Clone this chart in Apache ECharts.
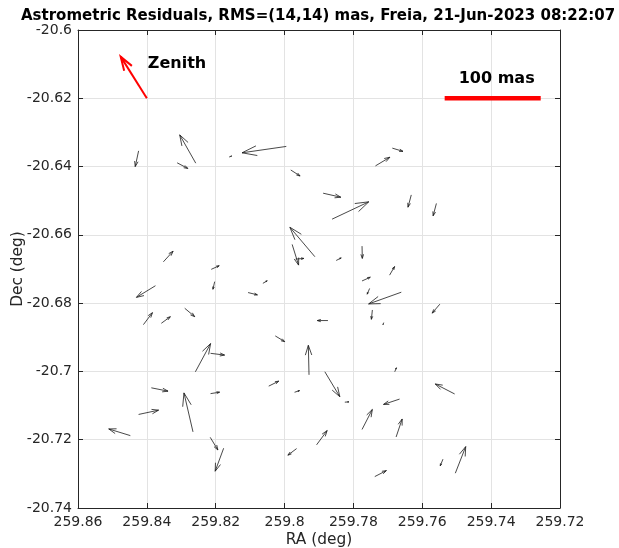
<!DOCTYPE html>
<html>
<head>
<meta charset="utf-8">
<script src="https://cdn.jsdelivr.net/npm/echarts@6/dist/echarts.min.js"></script>
<style>
  html, body { margin: 0; padding: 0; background: #fff; }
  #chart { width: 619px; height: 548px; }
</style>
</head>
<body>
<div id="chart"></div>
<script>
// Star positions (deg) and their astrometric residuals (mas)
const raDeg = [
  259.8424, 259.8258, 259.8312, 259.8161, 259.7995, 259.7736, 259.7687, 259.7982, 259.7888, 259.7862,
  259.7912, 259.7978, 259.7968, 259.7850, 259.7775, 259.8063, 259.8106, 259.7775, 259.7695, 259.7753,
  259.7661, 259.7745, 259.7712, 259.7874, 259.8027, 259.7929, 259.8352, 259.8213, 259.8203, 259.8375,
  259.8410, 259.8358, 259.8290, 259.8259, 259.8215, 259.8387, 259.8266, 259.8215, 259.8424, 259.8448,
  259.8216, 259.8177, 259.8046, 259.7971, 259.7883, 259.7825, 259.7680, 259.7666, 259.7775, 259.7676,
  259.7907, 259.7965, 259.7738, 259.7506, 259.7504, 259.7540, 259.7632, 259.7559, 259.7549
];
const decDeg = [
  -20.6354, -20.6390, -20.6389, -20.6372, -20.6341, -20.6398, -20.6346, -20.6410, -20.6478, -20.6554,
  -20.6664, -20.6628, -20.6671, -20.6675, -20.6633, -20.6742, -20.6769, -20.6735, -20.6718, -20.6757,
  -20.6768, -20.6820, -20.6857, -20.6851, -20.6896, -20.7010, -20.6679, -20.6701, -20.6737, -20.6749,
  -20.6863, -20.6859, -20.6815, -20.7001, -20.6947, -20.7048, -20.7177, -20.7065, -20.7126, -20.7188,
  -20.7193, -20.7225, -20.7043, -20.7061, -20.7001, -20.7090, -20.7001, -20.7081, -20.7170, -20.7192,
  -20.7215, -20.7226, -20.7308, -20.7066, -20.7298, -20.7257, -20.6483, -20.6508, -20.6803
];
const dRaMas = [
   3.5, 16.7, -11.1, -2.6, 46.1, -15.0, -11.1, -9.7, -18.4, -38.2,
  26.0, -6.7, -8.6, -5.2, -0.3, -4.5, -9.7, -8.6, -5.2, 2.5,
  34.0, 1.0, 0.7, 11.1, -9.8, 0.7, -10.1, -8.3, 1.8, 19.8,
  -9.4, -9.4, -10.4, -15.8, -14.6, -17.4, 9.4, -9.4, -20.8, 22.5,
  -8.0, 8.8, -10.4, -5.2, -15.6, -4.2, -1.7, 16.7, -10.7, -6.3,
  -11.0, 9.1, -12.1, 20.2, -10.8, 2.8, 3.4, 3.4, 8.0
];
const dDecMas = [
  -16.5, 29.7, -5.9, 1.0, -6.7, 9.1, -3.4, -6.3, -4.2, 18.2,
  30.9, -21.7, 0.7, 2.7, -12.9, 2.7, -2.4, 3.9, 9.0, -6.0,
  -12.3, -9.8, -2.1, 0.0, -6.0, 31.0, 11.2, 3.8, -8.0, -12.2,
  12.6, 6.9, -8.8, 29.6, -1.8, -3.5, 40.9, 1.5, 4.5, 7.0,
  -13.3, -24.1, 5.2, 1.7, -26.2, 0.3, 4.2, -5.6, 21.0, 18.9,
  15.0, -6.9, 6.3, 10.5, 27.9, -7.0, -12.9, -13.0, -9.4
];

// Zenith direction marker (deg) and the 100 mas scale bar (deg)
const zenithTail = [259.84, -20.62];
const zenithTip = [259.8476, -20.6078];
const scaleBarRa = [259.7535, 259.7256];
const scaleBarDec = -20.62;
const scaleBarText = '100 mas';

// Axis ranges and tick spacing
const raRange = [259.72, 259.86];
const decRange = [-20.74, -20.6];
const tickStep = 0.02;

// Residual plotting scale: degrees of arrow length per mas
const degPerMas = 0.000279;

const titleText = 'Astrometric Residuals, RMS=(14,14) mas, Freia, 21-Jun-2023 08:22:07';

const FONT = 'DejaVu Sans';
const INK = '#262626';

const vectors = raDeg.map((ra, i) => [ra, decDeg[i], dRaMas[i], dDecMas[i]]);

function fmt(v) { return String(parseFloat(v.toFixed(4))); }

// quiver-style arrow: shaft plus open V head scaled with the arrow length
function arrowShapes(p0, p1, stroke, width, alpha, beta) {
  const u = p1[0] - p0[0], v = p1[1] - p0[1];
  const x = p1[0], y = p1[1];
  const h1 = [x - alpha * (u + beta * v), y - alpha * (v - beta * u)];
  const h2 = [x - alpha * (u - beta * v), y - alpha * (v + beta * u)];
  const style = { stroke: stroke, lineWidth: width, fill: null };
  return [
    { type: 'polyline', shape: { points: [p0, p1] }, style: style },
    { type: 'polyline', shape: { points: [h1, p1, h2] }, style: style }
  ];
}

const chart = echarts.init(document.getElementById('chart'), null, { renderer: 'canvas' });

const xBase = {
  type: 'value', min: raRange[0], max: raRange[1], interval: tickStep, inverse: true,
  axisLine: { show: true, onZero: false, lineStyle: { color: INK, width: 1 } },
  axisTick: { show: true, inside: true, length: 5, lineStyle: { color: INK } },
  splitLine: { show: false }
};
const yBase = {
  type: 'value', min: decRange[0], max: decRange[1], interval: tickStep,
  axisLine: { show: true, onZero: false, lineStyle: { color: INK, width: 1 } },
  axisTick: { show: true, inside: true, length: 5, lineStyle: { color: INK } },
  splitLine: { show: false }
};

chart.setOption({
  animation: false,
  backgroundColor: '#fff',
  // title centred over the plot box
  graphic: [{
    type: 'text', left: 21, top: 9, silent: true,
    style: { text: titleText, font: 'bold 15px "DejaVu Sans"', fill: '#000' }
  }],
  grid: { left: 78, right: 59, top: 30, bottom: 40, containLabel: false, outerBoundsMode: 'none' },
  xAxis: [
    Object.assign({}, xBase, {
      position: 'bottom',
      name: 'RA (deg)', nameLocation: 'middle', nameGap: 24, nameMoveOverlap: false,
      nameTextStyle: { fontFamily: FONT, fontSize: 15.4, color: INK },
      axisLabel: { show: true, margin: 7, fontFamily: FONT, fontSize: 14, color: INK, formatter: fmt },
      splitLine: { show: true, lineStyle: { color: '#e3e3e3', width: 1 } }
    }),
    Object.assign({}, xBase, { position: 'top', axisLabel: { show: false } })
  ],
  yAxis: [
    Object.assign({}, yBase, {
      position: 'left',
      name: 'Dec (deg)', nameLocation: 'middle', nameGap: 53, nameRotate: 90, nameMoveOverlap: false,
      nameTextStyle: { fontFamily: FONT, fontSize: 15.4, color: INK },
      axisLabel: { show: true, margin: 6, fontFamily: FONT, fontSize: 14, color: INK, formatter: fmt },
      splitLine: { show: true, lineStyle: { color: '#e3e3e3', width: 1 } }
    }),
    Object.assign({}, yBase, { position: 'right', axisLabel: { show: false } })
  ],
  series: [
    {
      type: 'custom',
      name: 'residuals',
      xAxisIndex: 0, yAxisIndex: 0,
      encode: { x: 0, y: 1 },
      data: vectors,
      silent: true,
      renderItem: function (params, api) {
        const ra = api.value(0), dec = api.value(1);
        const p0 = api.coord([ra, dec]);
        const p1 = api.coord([ra + api.value(2) * degPerMas, dec + api.value(3) * degPerMas]);
        return { type: 'group', children: arrowShapes(p0, p1, '#1a1a1a', 0.8, 0.33, 0.33) };
      }
    },
    {
      type: 'custom',
      name: 'zenith',
      xAxisIndex: 0, yAxisIndex: 0,
      encode: { x: 0, y: 1 },
      data: [[zenithTail[0], zenithTail[1], zenithTip[0], zenithTip[1]]],
      silent: true,
      renderItem: function (params, api) {
        const p0 = api.coord([api.value(0), api.value(1)]);
        const p1 = api.coord([api.value(2), api.value(3)]);
        const kids = arrowShapes(p0, p1, '#ff0000', 2, 0.28, 0.33);
        kids.push({
          type: 'text',
          style: {
            text: 'Zenith', x: p0[0] + 1, y: p0[1] - 34,
            textAlign: 'left', textVerticalAlign: 'middle',
            font: 'bold 16px "DejaVu Sans"', fill: '#000'
          }
        });
        return { type: 'group', children: kids };
      }
    },
    {
      type: 'custom',
      name: 'scale',
      xAxisIndex: 0, yAxisIndex: 0,
      encode: { x: 0, y: 1 },
      data: [[scaleBarRa[0], scaleBarDec, scaleBarRa[1], scaleBarDec]],
      silent: true,
      renderItem: function (params, api) {
        const p0 = api.coord([api.value(0), api.value(1)]);
        const p1 = api.coord([api.value(2), api.value(3)]);
        return {
          type: 'group',
          children: [
            { type: 'line', shape: { x1: p0[0], y1: p0[1], x2: p1[0], y2: p1[1] },
              style: { stroke: '#ff0000', lineWidth: 4.5 } },
            { type: 'text',
              style: {
                text: scaleBarText, x: (p0[0] + p1[0]) / 2 + 4, y: p0[1] - 11,
                textAlign: 'center', textVerticalAlign: 'bottom',
                font: 'bold 16px "DejaVu Sans"', fill: '#000'
              } }
          ]
        };
      }
    }
  ]
});
</script>
</body>
</html>
